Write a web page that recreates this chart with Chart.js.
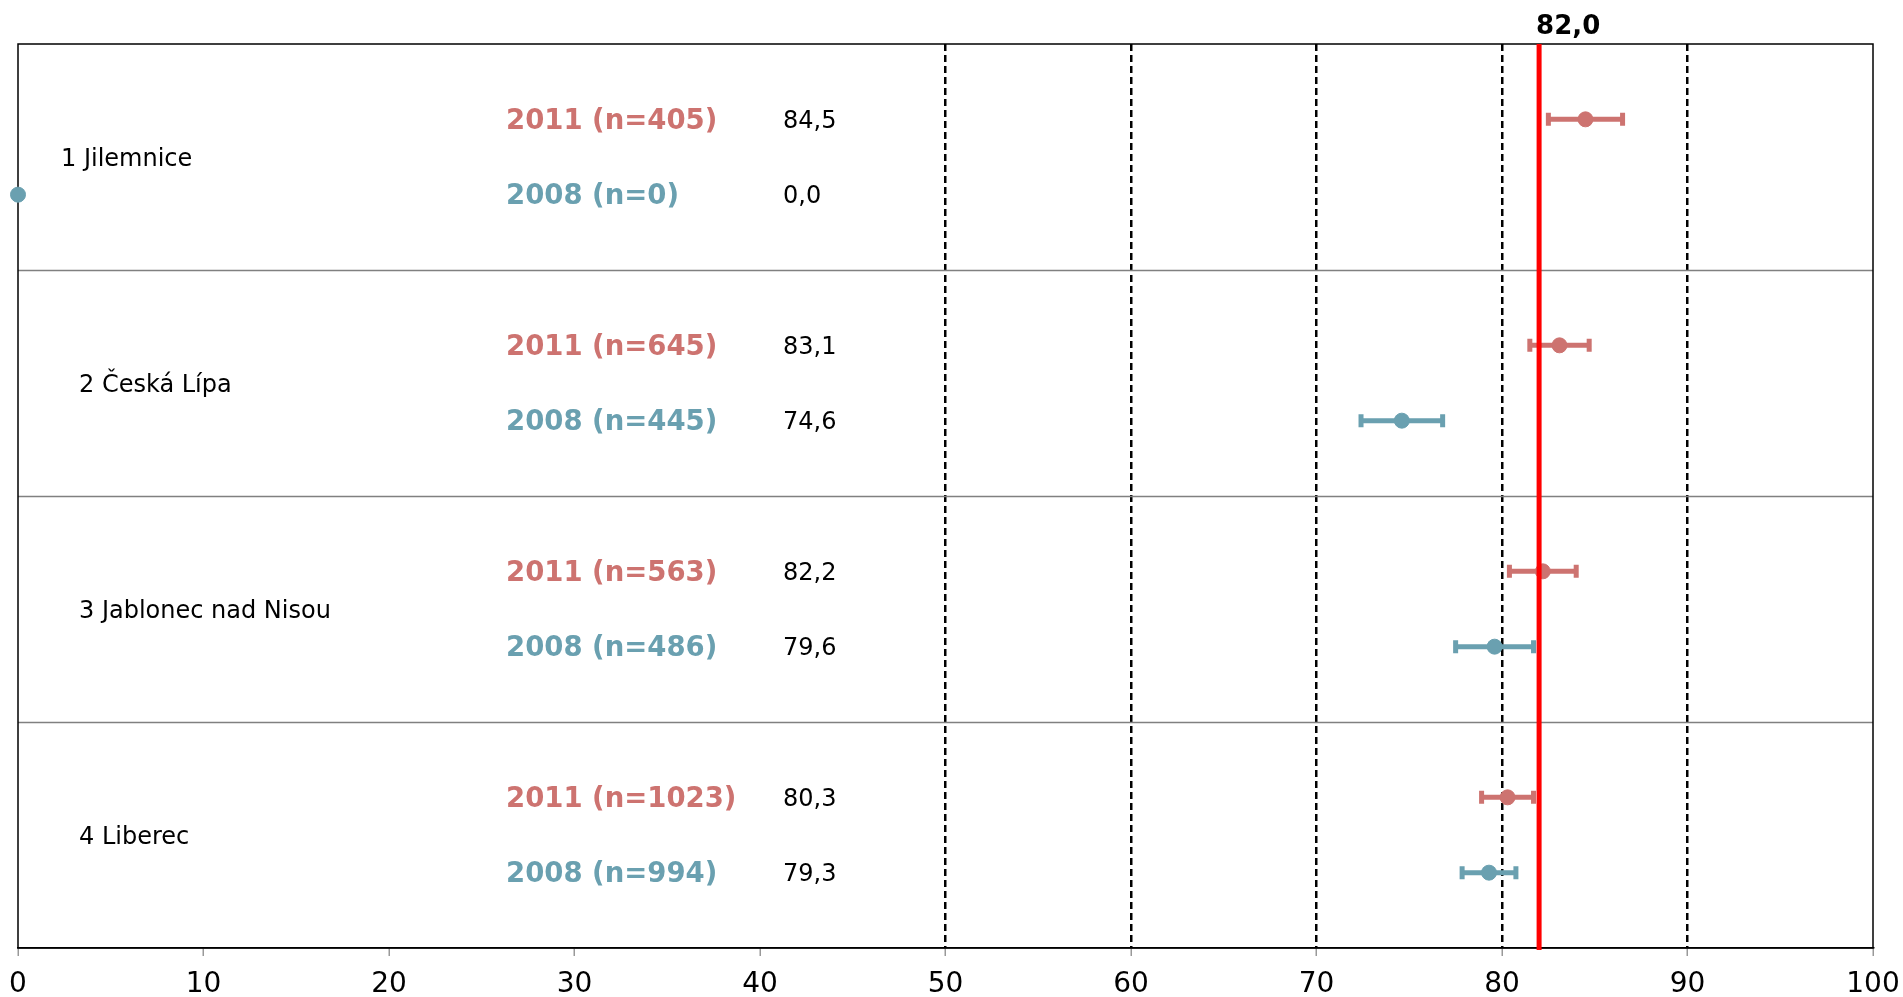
<!DOCTYPE html>
<html>
<head>
<meta charset="utf-8">
<script src="https://cdn.jsdelivr.net/npm/chart.js@4/dist/chart.umd.min.js"></script>
<style>
html, body { margin: 0; background: #fff; }
#wrap { width: 1903px; height: 997px; }
</style>
</head>
<body>
<div id="wrap"><canvas id="chart"></canvas></div>
<script>
// data
const regions = ["1 Jilemnice", "2 Česká Lípa", "3 Jablonec nad Nisou", "4 Liberec"];
const n2011 = [405, 645, 563, 1023];
const n2008 = [0, 445, 486, 994];
const val2011 = [84.5, 83.1, 82.2, 80.3];
const val2008 = [0.0, 74.6, 79.6, 79.3];
const err2011 = [2.0, 1.6, 1.8, 1.4];
const err2008 = [0, 2.2, 2.1, 1.45];
const refValue = 82.0;
const dashedTicks = [50, 60, 70, 80, 90];

const RED = "#cd7370", TEAL = "#6aa0b0";
const FONT = "'DejaVu Sans', Verdana, sans-serif";
const fmt = v => v.toFixed(1).replace(".", ",");
// row i: 2011 at one third, 2008 at two thirds of the band
const rowY = (i, k) => i + (k === 0 ? 1 / 3 : 2 / 3);

const series = [
    { year: 2011, vals: val2011, errs: err2011, ns: n2011, k: 0, color: RED },
    { year: 2008, vals: val2008, errs: err2008, ns: n2008, k: 1, color: TEAL }
];

const frame = {
    id: "frame",
    beforeDatasetsDraw(chart) {
        const { ctx, chartArea: a, scales: { x, y } } = chart;
        ctx.save();
        ctx.strokeStyle = "#808080"; ctx.lineWidth = 1.5;
        for (let i = 1; i < regions.length; i++) {
            const py = Math.round(y.getPixelForValue(i)) + 0.5;
            ctx.beginPath(); ctx.moveTo(a.left, py); ctx.lineTo(a.right, py); ctx.stroke();
        }
        ctx.strokeStyle = "#000"; ctx.lineWidth = 1.5;
        ctx.strokeRect(a.left, a.top, a.right - a.left, a.bottom - a.top);
        // error bars
        series.forEach(s => s.vals.forEach((v, i) => {
            if (!s.errs[i]) return;
            const py = y.getPixelForValue(rowY(i, s.k));
            const x0 = x.getPixelForValue(v - s.errs[i]), x1 = x.getPixelForValue(v + s.errs[i]);
            ctx.strokeStyle = s.color; ctx.lineWidth = 5;
            ctx.beginPath();
            ctx.moveTo(x0, py); ctx.lineTo(x1, py);
            ctx.moveTo(x0, py - 6.5); ctx.lineTo(x0, py + 6.5);
            ctx.moveTo(x1, py - 6.5); ctx.lineTo(x1, py + 6.5);
            ctx.stroke();
        }));
        ctx.restore();
    },
    afterDatasetsDraw(chart) {
        const { ctx, chartArea: a, scales: { x } } = chart;
        const px = x.getPixelForValue(refValue);
        ctx.save();
        ctx.strokeStyle = "#ff0000"; ctx.lineWidth = 5;
        ctx.beginPath(); ctx.moveTo(px, a.top); ctx.lineTo(px, a.bottom + 2); ctx.stroke();
        ctx.fillStyle = "#000"; ctx.font = "bold 26px " + FONT;
        ctx.textAlign = "left"; ctx.textBaseline = "middle";
        ctx.fillText(fmt(refValue), px - 3, 27.5);
        ctx.restore();
    },
    afterDraw(chart) {
        const { ctx, scales: { y } } = chart;
        ctx.save();
        ctx.textBaseline = "middle"; ctx.textAlign = "left";
        regions.forEach((r, i) => {
            ctx.fillStyle = "#000"; ctx.font = "24px " + FONT;
            ctx.fillText(r, i === 0 ? 61 : 79, y.getPixelForValue(i + 0.5) + 2.5);
            series.forEach(s => {
                const py = y.getPixelForValue(rowY(i, s.k));
                ctx.fillStyle = s.color; ctx.font = "bold 27.5px " + FONT;
                ctx.fillText(`${s.year} (n=${s.ns[i]})`, 506, py + 2.5);
                ctx.fillStyle = "#000"; ctx.font = "24px " + FONT;
                ctx.fillText(fmt(s.vals[i]), 783, py + 2.5);
            });
        });
        ctx.restore();
    }
};

new Chart(document.getElementById("chart"), {
    type: "scatter",
    data: {
        datasets: series.map(s => ({
            label: String(s.year),
            data: s.vals.map((v, i) => ({ x: v, y: rowY(i, s.k) })),
            backgroundColor: s.color, borderColor: s.color,
            pointRadius: 7.5, pointHoverRadius: 7.5, clip: false
        }))
    },
    options: {
        responsive: true, maintainAspectRatio: false, animation: false,
        layout: { padding: { left: 18, right: 30, top: 44, bottom: 0 } },
        plugins: { legend: { display: false }, tooltip: { enabled: false } },
        scales: {
            x: {
                type: "linear", min: 0, max: 100,
                ticks: { stepSize: 10, color: "#000", font: { family: FONT, size: 28 }, padding: 12 },
                grid: {
                    color: c => dashedTicks.includes(c.tick.value) ? "#000" : "transparent",
                    lineWidth: 2.5, tickColor: "#999", tickLength: 8, tickWidth: 1.5
                },
                border: { display: true, color: "#000", width: 1.5, dash: [7, 4] },
                afterFit: s => { s.height = 49; s.paddingLeft = 0; s.paddingRight = 0; }
            },
            y: { type: "linear", min: 0, max: regions.length, reverse: true, display: false }
        }
    },
    plugins: [frame]
});
</script>
</body>
</html>
